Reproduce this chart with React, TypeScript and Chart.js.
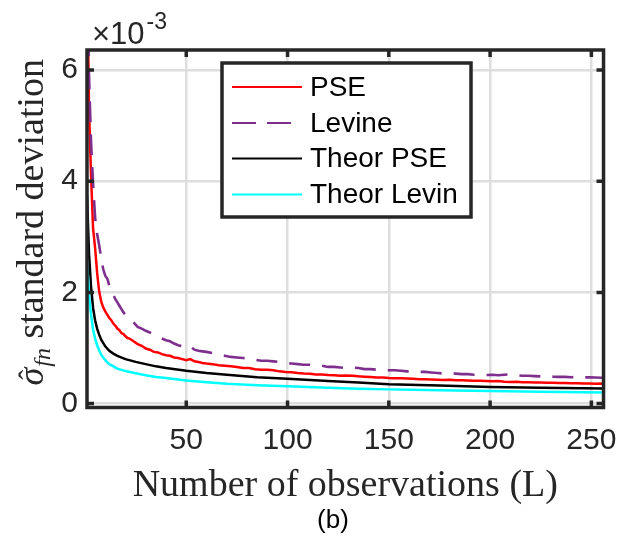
import React, { useEffect, useRef } from "react";
import { Chart, registerables } from "chart.js";

Chart.register(...registerables);

// Series labels
const seriesLabels = ["PSE", "Levine", "Theor PSE", "Theor Levin"];
const seriesColors = ["#FF0000", "#7E2F8E", "#000000", "#00FFFF"];

// Axis ticks (y values are in units of 1e-3)
const xTickValues = [50, 100, 150, 200, 250];
const yTickValues = [0, 2, 4, 6];
const xMin = 1;
const xMax = 256;
const yMin = -0.07;
const yMax = 6.36;

// Number of observations for the simulated curves
const obsL = [1, 2, 3, 4, 5, 6, 7, 8, 9, 10, 11, 12, 13, 14, 15, 16, 17, 18, 19, 20, 21,
  22, 24, 26, 28, 30, 32, 34, 36, 38, 40, 42, 44, 46, 48, 50, 52, 54, 56, 58, 60,
  63, 66, 69, 72, 75, 78, 81, 84, 87, 90, 93, 96, 99, 102, 105, 108, 111, 114, 117, 120,
  123, 126, 129, 132, 135, 138, 141, 144, 147, 150, 153, 156, 159, 162, 165, 168, 171, 174, 177, 180,
  183, 186, 189, 192, 195, 198, 201, 204, 207, 210, 213, 216, 219, 222, 225, 228, 231, 234, 237, 240,
  243, 246, 249, 252, 255, 256];

// PSE standard deviation (x1e-3)
const pseValues = [8.0, 5.3, 4.1, 3.15, 2.8, 2.35, 2.02, 1.84, 1.73, 1.66, 1.6, 1.54, 1.5, 1.44, 1.4, 1.35, 1.32, 1.27, 1.25, 1.21, 1.18,
  1.17, 1.12, 1.07, 1.04, 0.99, 0.97, 0.93, 0.92, 0.89, 0.87, 0.86, 0.83, 0.82, 0.8, 0.78, 0.8, 0.76, 0.75, 0.73, 0.72,
  0.71, 0.69, 0.68, 0.67, 0.66, 0.64, 0.64, 0.62, 0.61, 0.61, 0.6, 0.58, 0.57, 0.565, 0.55, 0.54, 0.535, 0.525, 0.525, 0.515,
  0.51, 0.5, 0.505, 0.5, 0.49, 0.485, 0.48, 0.47, 0.47, 0.46, 0.455, 0.455, 0.45, 0.445, 0.44, 0.44, 0.435, 0.43, 0.425, 0.43,
  0.42, 0.42, 0.415, 0.41, 0.41, 0.405, 0.4, 0.405, 0.395, 0.39, 0.395, 0.385, 0.385, 0.38, 0.38, 0.375, 0.375, 0.37, 0.37, 0.365,
  0.365, 0.36, 0.36, 0.355, 0.36, 0.357];

// Levine standard deviation (x1e-3)
const levineValues = [9.0, 5.9, 4.7, 3.95, 3.35, 3.05, 2.85, 2.62, 2.42, 2.3, 2.25, 2.12, 2.02, 1.95, 1.88, 1.82, 1.76, 1.7, 1.64, 1.6, 1.56,
  1.53, 1.46, 1.38, 1.35, 1.31, 1.28, 1.24, 1.21, 1.17, 1.14, 1.12, 1.08, 1.05, 1.03, 1.0, 1.03, 0.97, 0.95, 0.94, 0.93,
  0.91, 0.89, 0.86, 0.84, 0.83, 0.82, 0.81, 0.79, 0.77, 0.77, 0.76, 0.75, 0.73, 0.72, 0.71, 0.7, 0.7, 0.69, 0.68, 0.66,
  0.66, 0.65, 0.64, 0.65, 0.64, 0.62, 0.62, 0.61, 0.61, 0.6, 0.6, 0.59, 0.58, 0.58, 0.57, 0.57, 0.56, 0.55, 0.54, 0.545,
  0.54, 0.53, 0.53, 0.52, 0.52, 0.515, 0.52, 0.51, 0.52, 0.525, 0.51, 0.5, 0.5, 0.495, 0.49, 0.495, 0.485, 0.48, 0.48, 0.475,
  0.48, 0.47, 0.475, 0.47, 0.465, 0.465];

// Number of observations for the theoretical curves
const theorL = [1, 2, 3, 4, 5, 6, 7, 8, 10, 12, 14, 16, 20, 25, 30, 35, 40, 50, 60, 70, 85, 100, 120, 135, 150, 175, 200, 225, 256];

// Theoretical PSE (x1e-3)
const theorPseValues = [3.75, 2.7, 2.1, 1.72, 1.5, 1.35, 1.24, 1.15, 1.03, 0.95, 0.9, 0.86, 0.8, 0.75, 0.71, 0.67, 0.64, 0.59, 0.55, 0.52, 0.475, 0.445, 0.405, 0.38, 0.35, 0.325, 0.3, 0.285, 0.272];

// Theoretical Levine (x1e-3)
const theorLevinValues = [2.6, 1.95, 1.6, 1.33, 1.17, 1.05, 0.96, 0.88, 0.78, 0.71, 0.67, 0.63, 0.585, 0.545, 0.51, 0.48, 0.46, 0.415, 0.385, 0.355, 0.33, 0.31, 0.285, 0.268, 0.256, 0.24, 0.226, 0.213, 0.202];

const AXIS_COLOR = "#262626";
const SANS = "'Liberation Sans', Arial, sans-serif";
const SERIF = "'Liberation Serif', 'Times New Roman', serif";

const toPoints = (xs: number[], ys: number[]) =>
  xs.map((x, i) => ({ x, y: ys[i] })).filter((p) => p.y !== undefined);

const decorPlugin = {
  id: "decor",
  afterDatasetsDraw(chart: any) {
    const ctx: CanvasRenderingContext2D = chart.ctx;
    const { left, right, top, bottom } = chart.chartArea;
    const xs = chart.scales.x;
    const ys = chart.scales.y;
    ctx.save();

    // inner tick marks
    ctx.strokeStyle = AXIS_COLOR;
    ctx.lineWidth = 3.5;
    ctx.beginPath();
    xTickValues.forEach((v) => {
      const px = xs.getPixelForValue(v);
      ctx.moveTo(px, bottom);
      ctx.lineTo(px, bottom - 7);
      ctx.moveTo(px, top);
      ctx.lineTo(px, top + 7);
    });
    yTickValues.forEach((v) => {
      const py = ys.getPixelForValue(v);
      ctx.moveTo(left, py);
      ctx.lineTo(left + 7, py);
      ctx.moveTo(right, py);
      ctx.lineTo(right - 7, py);
    });
    ctx.stroke();

    // axes box
    ctx.lineWidth = 3.5;
    ctx.strokeRect(left, top, right - left, bottom - top);

    // legend
    const lx = 222, ly = 63, lw = 249, lh = 154;
    ctx.fillStyle = "#FFFFFF";
    ctx.fillRect(lx, ly, lw, lh);
    ctx.strokeStyle = AXIS_COLOR;
    ctx.lineWidth = 3.5;
    ctx.strokeRect(lx, ly, lw, lh);
    const rowY = [87, 123, 158.5, 194.5];
    chart.data.datasets.forEach((ds: any, i: number) => {
      const y = rowY[i];
      ctx.beginPath();
      ctx.strokeStyle = ds.borderColor;
      ctx.lineWidth = 2.2;
      ctx.setLineDash(ds.borderDash && ds.borderDash.length ? [24, 11] : []);
      ctx.moveTo(232, y);
      ctx.lineTo(302, y);
      ctx.stroke();
      ctx.setLineDash([]);
      ctx.fillStyle = "#000000";
      ctx.font = `28px ${SANS}`;
      ctx.textAlign = "left";
      ctx.textBaseline = "middle";
      ctx.fillText(ds.label, 310, y + 1);
    });

    // exponent label
    ctx.fillStyle = AXIS_COLOR;
    ctx.textBaseline = "alphabetic";
    ctx.textAlign = "left";
    ctx.font = `31px ${SANS}`;
    ctx.fillText("\u00D710", 92, 44);
    const w = ctx.measureText("\u00D710").width;
    ctx.font = `23px ${SANS}`;
    ctx.fillText("-3", 92 + w + 2, 29);

    // x axis title
    ctx.fillStyle = AXIS_COLOR;
    ctx.font = `38px ${SERIF}`;
    ctx.textAlign = "center";
    ctx.fillText("Number of observations (L)", (left + right) / 2, 496);

    // y axis title
    ctx.save();
    const cy = (top + bottom) / 2 - 6;
    ctx.translate(43, cy);
    ctx.rotate(-Math.PI / 2);
    ctx.textAlign = "left";
    const p1 = "\u03C3";
    const p2 = "fn";
    const p3 = " standard deviation";
    ctx.font = `italic 36px ${SERIF}`;
    const w1 = ctx.measureText(p1).width;
    ctx.font = `italic 24px ${SERIF}`;
    const w2 = ctx.measureText(p2).width;
    ctx.font = `38px ${SERIF}`;
    const w3 = ctx.measureText(p3).width;
    let sx = -(w1 + w2 + w3) / 2;
    ctx.font = `italic 36px ${SERIF}`;
    ctx.fillText(p1, sx, 0);
    ctx.font = `30px ${SERIF}`;
    ctx.textAlign = "center";
    ctx.fillText("\u02C6", sx + w1 / 2 + 2, -4);
    ctx.textAlign = "left";
    sx += w1 + 1;
    ctx.font = `italic 24px ${SERIF}`;
    ctx.fillText(p2, sx, 7);
    sx += w2;
    ctx.font = `38px ${SERIF}`;
    ctx.fillText(p3, sx, 0);
    ctx.restore();

    // caption
    ctx.fillStyle = "#000000";
    ctx.font = `26px ${SANS}`;
    ctx.textAlign = "center";
    ctx.textBaseline = "middle";
    ctx.fillText("(b)", 333, 521);

    ctx.restore();
  },
};

export default function App() {
  const canvasRef = useRef<HTMLCanvasElement | null>(null);

  useEffect(() => {
    if (!canvasRef.current) return;
    const chart = new Chart(canvasRef.current, {
      type: "line",
      data: {
        datasets: [
          {
            label: seriesLabels[0],
            data: toPoints(obsL, pseValues),
            borderColor: seriesColors[0],
            borderWidth: 2.5,
            pointRadius: 0,
            order: 3,
          },
          {
            label: seriesLabels[1],
            data: toPoints(obsL, levineValues),
            borderColor: seriesColors[1],
            borderWidth: 2.6,
            borderDash: [21, 12],
            pointRadius: 0,
            order: 2,
          },
          {
            label: seriesLabels[2],
            data: toPoints(theorL, theorPseValues),
            borderColor: seriesColors[2],
            borderWidth: 2.5,
            pointRadius: 0,
            order: 1,
          },
          {
            label: seriesLabels[3],
            data: toPoints(theorL, theorLevinValues),
            borderColor: seriesColors[3],
            borderWidth: 2.5,
            pointRadius: 0,
            order: 0,
          },
        ],
      },
      options: {
        animation: false,
        responsive: false,
        maintainAspectRatio: false,
        layout: { padding: { top: 50, right: 25.5, left: 0, bottom: 0 } },
        plugins: {
          legend: { display: false },
          tooltip: { enabled: false },
          title: { display: false },
        },
        elements: { line: { tension: 0 } },
        scales: {
          x: {
            type: "linear",
            min: xMin,
            max: xMax,
            border: { display: false },
            grid: { color: "#DEDEDE", lineWidth: 2.5, drawTicks: false },
            ticks: {
              color: AXIS_COLOR,
              font: { family: SANS, size: 30 },
              padding: 15,
              autoSkip: false,
              maxRotation: 0,
            },
            afterBuildTicks: (scale: any) => {
              scale.ticks = xTickValues.map((v) => ({ value: v }));
            },
            afterFit: (scale: any) => {
              scale.height = 136.5;
            },
          },
          y: {
            type: "linear",
            min: yMin,
            max: yMax,
            border: { display: false },
            grid: { color: "#DEDEDE", lineWidth: 2.5, drawTicks: false },
            ticks: {
              color: AXIS_COLOR,
              font: { family: SANS, size: 30 },
              padding: 9,
            },
            afterBuildTicks: (scale: any) => {
              scale.ticks = yTickValues.map((v) => ({ value: v }));
            },
            afterFit: (scale: any) => {
              scale.width = 87;
            },
          },
        },
      },
      plugins: [decorPlugin],
    });
    return () => chart.destroy();
  }, []);

  return (
    <div style={{ position: "absolute", left: 0, top: 0, width: 632, height: 544, background: "#FFFFFF" }}>
      <canvas ref={canvasRef} width={632} height={544} style={{ display: "block" }} />
    </div>
  );
}
